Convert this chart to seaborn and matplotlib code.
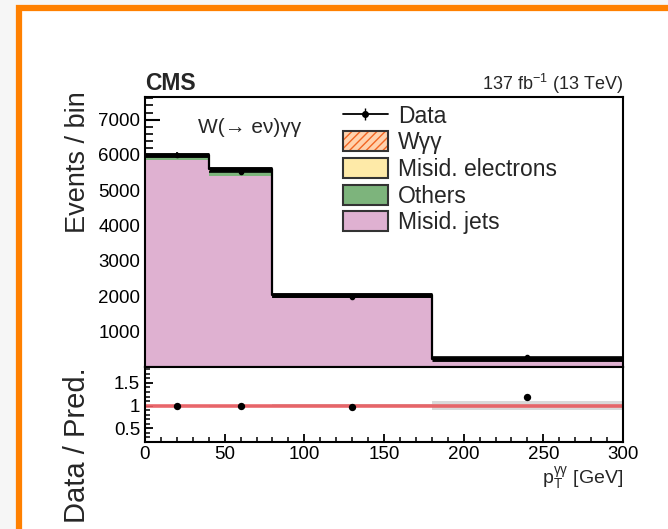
import numpy as np
import matplotlib
matplotlib.use("Agg")
import matplotlib.pyplot as plt
import seaborn as sns
from matplotlib.patches import Rectangle, Patch
from matplotlib.lines import Line2D
from matplotlib.ticker import FixedLocator, MultipleLocator

# p_T(gamma gamma) binning [GeV]
bin_edges = [0, 40, 80, 180, 300]
bin_centers = [20, 60, 130, 240]

# Stacked background / signal contributions (events per bin)
misid_jets = [5860, 5410, 1975, 195]
others = [85, 125, 40, 20]
misid_electrons = [25, 25, 15, 10]
w_gamma_gamma = [30, 30, 20, 15]

# Observed events per bin
data_events = [6000, 5530, 1990, 285]

# Relative uncertainty of the prediction per bin
pred_rel_unc = [0.015, 0.02, 0.03, 0.10]

# Axis ticks
main_yticks = [1000, 2000, 3000, 4000, 5000, 6000, 7000]
ratio_yticks = [0.5, 1, 1.5]
xticks = [0, 50, 100, 150, 200, 250, 300]

process_labels = ["Misid. jets", "Others", "Misid. electrons", "W\u03b3\u03b3"]
process_colors = ["#dfb1d1", "#7db47c", "#feeaa8", "#ffd2ad"]

sns.set_style("ticks")
plt.rcParams["font.family"] = ["Liberation Sans", "DejaVu Sans"]
plt.rcParams["mathtext.fontset"] = "custom"
plt.rcParams["mathtext.rm"] = "Liberation Sans"
plt.rcParams["mathtext.it"] = "Liberation Sans:italic"
plt.rcParams["mathtext.bf"] = "Liberation Sans:bold"
plt.rcParams["hatch.color"] = "#f26522"
plt.rcParams["hatch.linewidth"] = 1.0

W, H = 668, 529
fig = plt.figure(figsize=(W / 100, H / 100), dpi=100, facecolor="#f6f6f6")

# White card with an orange border
fig.patches.append(Rectangle((18.5 / W, -0.1), 1.2, 1.0 - 8 / H + 0.1,
                             transform=fig.transFigure, facecolor="white",
                             edgecolor="#ff8000", linewidth=4.5, zorder=-1))

left, right = 145 / W, 623 / W
ax = fig.add_axes([left, 1 - 367 / H, right - left, (367 - 97) / H])
rax = fig.add_axes([left, 1 - 442 / H, right - left, (442 - 367) / H], sharex=ax)

components = [misid_jets, others, misid_electrons, w_gamma_gamma]
cumulative = np.cumsum(np.array(components, dtype=float), axis=0)
total = cumulative[-1]

# Draw the stack from the top layer down so each lower layer covers the rest
for i in reversed(range(len(components))):
    kw = dict(hatch="////", edgecolor="#f26522") if i == 3 else dict(edgecolor="none")
    sns.histplot(x=bin_centers, weights=cumulative[i], bins=bin_edges,
                 element="step", fill=True, color=process_colors[i], alpha=1,
                 linewidth=0, ax=ax, **kw)

# Total prediction outline and its uncertainty band
sns.histplot(x=bin_centers, weights=total, bins=bin_edges, element="step",
             fill=False, color="black", linewidth=1.6, ax=ax)
ax.hlines(total, bin_edges[:-1], bin_edges[1:], colors="black", linewidth=3.5)

half_widths = np.diff(bin_edges) / 2
data_arr = np.array(data_events, dtype=float)
ax.errorbar(bin_centers, data_arr, yerr=np.sqrt(data_arr), xerr=half_widths,
            fmt="o", ms=3, color="black", elinewidth=1.2, capsize=0)

ax.set_xlim(0, 300)
ax.set_ylim(0, 7640)
ax.set_xlabel("")
ax.set_ylabel("")

# Ratio panel
ratio = data_arr / total
ratio_err = np.sqrt(data_arr) / total
unc = np.array(pred_rel_unc)
rax.bar(bin_centers, 2 * unc, bottom=1 - unc, width=np.diff(bin_edges),
        color="#d9d9d9", linewidth=0, zorder=1)
rax.axhline(1, color="#e8585d", linewidth=2.6, alpha=0.9, zorder=2)
rax.errorbar(bin_centers, ratio, yerr=ratio_err, fmt="none", ecolor="black",
             elinewidth=1.0, zorder=3)
sns.scatterplot(x=bin_centers, y=ratio, color="black", s=28, edgecolor="black",
                linewidth=0, ax=rax, zorder=4)
rax.set_ylim(0.2, 1.85)

# Axes styling
for a in (ax, rax):
    for side in ("left", "right", "top", "bottom"):
        a.spines[side].set_visible(True)
        a.spines[side].set_color("black")
        a.spines[side].set_linewidth(1.5)
    a.tick_params(which="both", direction="in", top=False, right=False,
                  colors="black", labelsize=13.5)
    a.xaxis.set_major_locator(FixedLocator(xticks))
    a.xaxis.set_minor_locator(MultipleLocator(10))
    a.tick_params(axis="x", which="major", length=6, width=1.3)
    a.tick_params(axis="x", which="minor", length=3.5, width=1.1)

ax.yaxis.set_major_locator(FixedLocator(main_yticks))
ax.yaxis.set_minor_locator(MultipleLocator(200))
ax.tick_params(axis="y", which="major", length=11, width=1.5)
ax.tick_params(axis="y", which="minor", length=6, width=1.2)
ax.tick_params(labelbottom=False)

rax.yaxis.set_major_locator(FixedLocator(ratio_yticks))
rax.yaxis.set_minor_locator(MultipleLocator(0.1))
rax.yaxis.set_major_formatter(plt.FuncFormatter(lambda v, p: f"{v:g}"))
rax.tick_params(axis="y", which="major", length=6, width=1.3)
rax.tick_params(axis="y", which="minor", length=3.5, width=1.1)
rax.tick_params(axis="x", pad=3)

ax.set_ylabel("Events / bin", loc="top", fontsize=19.5)
ax.yaxis.set_label_coords(-0.112, 1.02)
rax.set_ylabel("Data / Pred.", loc="top", fontsize=21)
rax.yaxis.set_label_coords(-0.112, 1.0)
rax.set_xlabel(r"$\mathrm{p}_{\mathrm{T}}^{\mathrm{\gamma\gamma}}$ [GeV]",
               loc="right", fontsize=14, labelpad=1)

# Header and channel labels
ax.text(0, 1.026, "CMS", transform=ax.transAxes, fontsize=16.5,
        fontweight="bold", ha="left", va="baseline")
ax.text(1, 1.026, r"137 fb$^{-1}$ (13 TeV)", transform=ax.transAxes,
        fontsize=13, ha="right", va="baseline")
ax.text(0.111, 0.867, "W(\u2192 e\u03bd)\u03b3\u03b3", transform=ax.transAxes,
        fontsize=15, ha="left", va="baseline")

# Legend
data_handle = (Line2D([], [], color="black", linewidth=1.3),
               Line2D([], [], marker="|", ms=8, color="black", linestyle=""),
               Line2D([], [], marker="o", ms=4, color="black", linestyle=""))
wgg_handle = (Patch(facecolor=process_colors[3], hatch="////",
                    edgecolor="#f26522", linewidth=0),
              Patch(facecolor="none", edgecolor="#333333", linewidth=1.5))
handles = [data_handle, wgg_handle] + [
    Patch(facecolor=process_colors[i], edgecolor="#333333", linewidth=1.5)
    for i in (2, 1, 0)]
labels = ["Data", process_labels[3], process_labels[2], process_labels[1],
          process_labels[0]]
ax.legend(handles, labels, loc="upper left", bbox_to_anchor=(0.414, 0.972),
          frameon=False, fontsize=16.5, borderpad=0, borderaxespad=0,
          handlelength=1.95, handleheight=0.95, handletextpad=0.45,
          labelspacing=0.16)

fig.savefig("out.png", dpi=100, facecolor=fig.get_facecolor())
